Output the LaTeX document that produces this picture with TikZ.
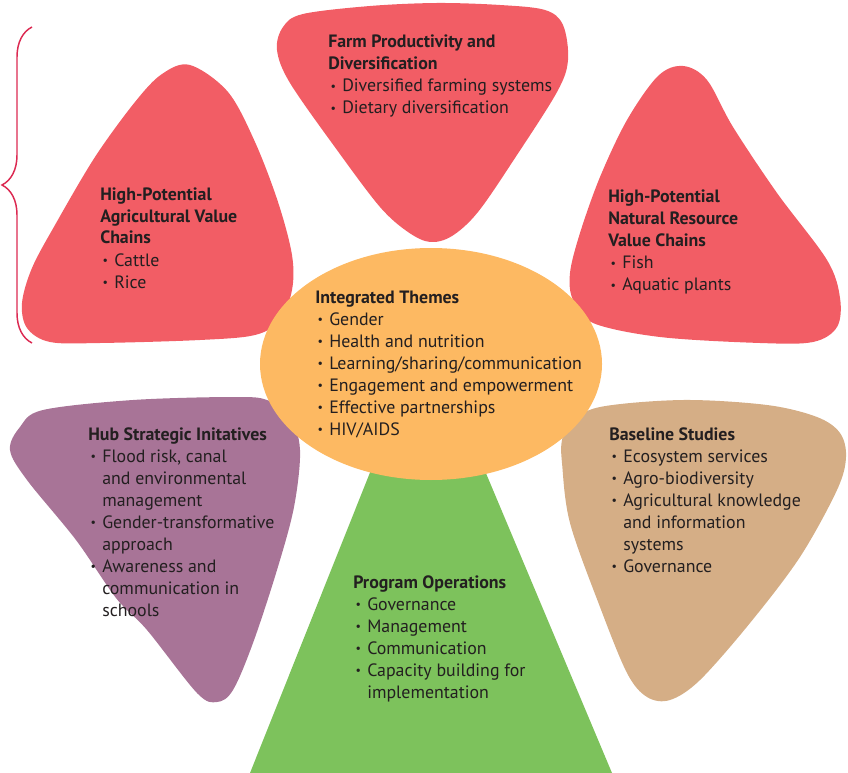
\documentclass[tikz,border=0pt]{standalone}
\usepackage{fontspec}
\setmainfont{PT Sans}
\usetikzlibrary{decorations.pathreplacing}
\definecolor{PetalRed}{HTML}{F25D65}
\definecolor{ThemeOrange}{HTML}{FDB962}
\definecolor{HubPurple}{HTML}{A87497}
\definecolor{OpsGreen}{HTML}{7DC25C}
\definecolor{StudyTan}{HTML}{D5AE86}
\definecolor{BraceRed}{HTML}{DC2A52}
\definecolor{Ink}{HTML}{231F20}
\newcommand{\bul}{\makebox[10.5pt][l]{\kern1.8pt\raisebox{1.2pt}{\fontsize{9}{9}\selectfont\textbullet}}}
\newcommand{\ind}{\hspace*{10.5pt}}
\newcommand{\hd}[1]{\textbf{#1}}

\begin{document}
\begin{tikzpicture}[x=0.75pt,y=-0.75pt,
          petal/.style={smooth cycle,tension=0.55},
          % blocks are placed by the baseline of their last line
          blurb/.style={anchor=base west,align=left,inner sep=0pt,text=Ink,
                        font=\fontsize{13.4}{16.5}\selectfont}]
        \useasboundingbox (0,0) rectangle (848,773);
        % petals, back to front
        \fill[PetalRed] plot[petal] coordinates {(190,65) (228,92) (255,142)
          (278,202) (292,255) (292,290) (280,320) (255,335) (200,340) (100,343)
          (50,342) (27,328) (22,303) (32,268) (55,225) (95,157) (135,102) (162,74)};
        \fill[PetalRed] plot[petal] coordinates {(430,242) (452,236) (478,212)
          (515,158) (557,92) (568,60) (563,25) (545,10) (500,5) (437,3) (370,6)
          (303,14) (283,27) (277,50) (290,83) (337,150) (380,207) (408,232)};
        \fill[PetalRed] plot[petal] coordinates {(683,66) (707,80) (733,127)
          (777,193) (827,260) (840,298) (837,327) (813,342) (760,343) (660,337)
          (593,323) (573,300) (570,273) (580,233) (600,177) (627,120) (658,76)};
        \fill[HubPurple] plot[petal] coordinates {(20,427) (43,410) (133,400)
          (233,397) (267,400) (290,417) (300,450) (294,507) (277,570) (253,643)
          (233,690) (217,702) (197,693) (147,630) (116,598) (76,540) (27,480)
          (10,450)};
        \fill[StudyTan] plot[petal] coordinates {(570,423) (600,407) (683,400)
          (767,405) (817,417) (840,433) (846,457) (837,490) (800,557) (750,623)
          (700,680) (670,700) (647,697) (627,673) (600,607) (570,523) (562,463)
          (562,440)};
        \fill[OpsGreen] (383,440) -- (472,440) -- (612,773) -- (250,773) -- cycle;
        \fill[ThemeOrange] (431,364) ellipse [x radius=128.25pt,y radius=87pt];
        % brace along the left petal
        \coordinate (braceBot) at (32,343);
        \coordinate (braceTop) at (32,27);
        \draw[BraceRed,line width=1.1pt,decorate,
              decoration={brace,amplitude=22.5pt}] (braceBot) -- (braceTop);
        \node[blurb] (agri) at (100,288) {\hd{High-Potential}\\\hd{Agricultural Value}\\
          \hd{Chains}\\\bul Cattle\\\bul Rice};
        \node[blurb] (farm) at (328,114) {\hd{Farm Productivity and}\\\hd{Diversification}\\
          \bul Diversified farming systems\\\bul Dietary diversification};
        \node[blurb] (natres) at (608,291) {\hd{High-Potential}\\\hd{Natural Resource}\\
          \hd{Value Chains}\\\bul Fish\\\bul Aquatic plants};
        \node[blurb] (themes) at (315,435) {\hd{Integrated Themes}\\\bul Gender\\
          \bul Health and nutrition\\\bul Learning/sharing/communication\\
          \bul Engagement and empowerment\\\bul Effective partnerships\\\bul HIV/AIDS};
        \node[blurb] (hub) at (88,616) {\hd{Hub Strategic Initatives}\\\bul Flood risk, canal\\
          \ind and environmental\\\ind management\\\bul Gender-transformative\\
          \ind approach\\\bul Awareness and\\\ind communication in\\\ind schools};
        \node[blurb] (studies) at (609,572) {\hd{Baseline Studies}\\\bul Ecosystem services\\
          \bul Agro-biodiversity\\\bul Agricultural knowledge\\\ind and information\\
          \ind systems\\\bul Governance};
        \node[blurb] (ops) at (353,698) {\hd{Program Operations}\\\bul Governance\\
          \bul Management\\\bul Communication\\\bul Capacity building for\\
          \ind implementation};
      \end{tikzpicture}
\end{document}
